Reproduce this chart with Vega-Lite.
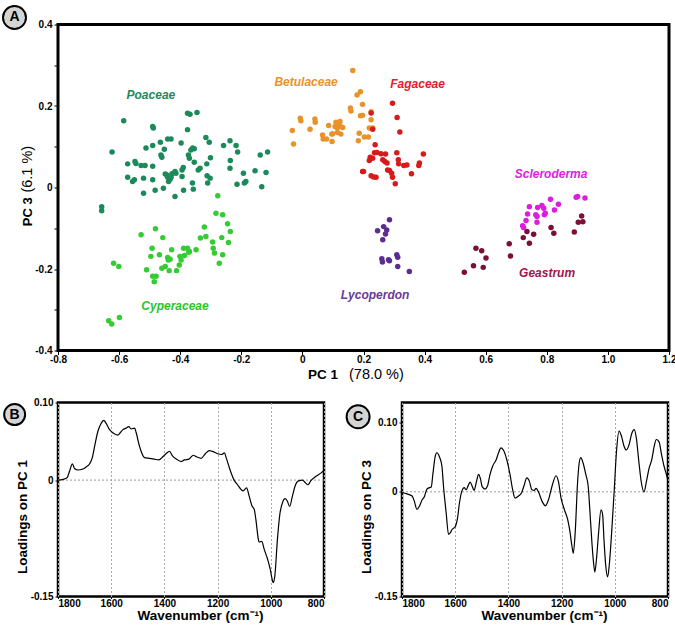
{
  "$schema": "https://vega.github.io/schema/vega-lite/v6.json",
  "background": "white",
  "padding": {"left": 0, "top": 2.5, "right": 0, "bottom": 0},
  "autosize": {"type": "pad"},
  "config": {
    "font": "Liberation Sans",
    "axis": {"labelFont": "Liberation Sans", "labelFontSize": 10, "labelFontWeight": "bold", "labelColor": "#000", "tickColor": "#000", "domain": false, "titleFont": "Liberation Sans", "titleFontSize": 13.5, "titleFontWeight": "bold", "titleColor": "#000"},
    "view": {"stroke": "#000", "strokeWidth": 3}
  },
  "datasets": {
    "pca": [
      {"g":"Poaceae","x":-0.585,"y":0.164},{"g":"Poaceae","x":-0.623,"y":0.087},{"g":"Poaceae","x":-0.572,"y":0.058},{"g":"Poaceae","x":-0.572,"y":0.025},{"g":"Poaceae","x":-0.548,"y":0.064},{"g":"Poaceae","x":-0.545,"y":0.059},{"g":"Poaceae","x":-0.556,"y":0.015},{"g":"Poaceae","x":-0.550,"y":0.019},{"g":"Poaceae","x":-0.528,"y":0.054},{"g":"Poaceae","x":-0.515,"y":0.054},{"g":"Poaceae","x":-0.512,"y":0.097},{"g":"Poaceae","x":-0.520,"y":0.023},{"g":"Poaceae","x":-0.520,"y":-0.014},{"g":"Poaceae","x":-0.490,"y":0.150},{"g":"Poaceae","x":-0.488,"y":0.146},{"g":"Poaceae","x":-0.490,"y":0.103},{"g":"Poaceae","x":-0.490,"y":0.052},{"g":"Poaceae","x":-0.490,"y":0.019},{"g":"Poaceae","x":-0.482,"y":-0.007},{"g":"Poaceae","x":-0.465,"y":0.111},{"g":"Poaceae","x":-0.463,"y":0.080},{"g":"Poaceae","x":-0.460,"y":0.074},{"g":"Poaceae","x":-0.452,"y":0.094},{"g":"Poaceae","x":-0.455,"y":-0.002},{"g":"Poaceae","x":-0.449,"y":0.033},{"g":"Poaceae","x":-0.441,"y":0.119},{"g":"Poaceae","x":-0.430,"y":0.119},{"g":"Poaceae","x":-0.444,"y":0.031},{"g":"Poaceae","x":-0.441,"y":0.025},{"g":"Poaceae","x":-0.438,"y":0.015},{"g":"Poaceae","x":-0.433,"y":0.020},{"g":"Poaceae","x":-0.430,"y":0.025},{"g":"Poaceae","x":-0.427,"y":0.034},{"g":"Poaceae","x":-0.417,"y":0.039},{"g":"Poaceae","x":-0.417,"y":-0.022},{"g":"Poaceae","x":-0.414,"y":0.035},{"g":"Poaceae","x":-0.397,"y":0.109},{"g":"Poaceae","x":-0.394,"y":0.043},{"g":"Poaceae","x":-0.390,"y":0.049},{"g":"Poaceae","x":-0.389,"y":-0.007},{"g":"Poaceae","x":-0.394,"y":0.027},{"g":"Poaceae","x":-0.376,"y":0.182},{"g":"Poaceae","x":-0.368,"y":0.180},{"g":"Poaceae","x":-0.345,"y":0.184},{"g":"Poaceae","x":-0.376,"y":0.142},{"g":"Poaceae","x":-0.373,"y":0.080},{"g":"Poaceae","x":-0.365,"y":0.092},{"g":"Poaceae","x":-0.359,"y":0.097},{"g":"Poaceae","x":-0.354,"y":0.095},{"g":"Poaceae","x":-0.370,"y":0.072},{"g":"Poaceae","x":-0.354,"y":0.062},{"g":"Poaceae","x":-0.360,"y":0.011},{"g":"Poaceae","x":-0.357,"y":-0.004},{"g":"Poaceae","x":-0.341,"y":0.043},{"g":"Poaceae","x":-0.335,"y":0.047},{"g":"Poaceae","x":-0.316,"y":0.123},{"g":"Poaceae","x":-0.305,"y":0.111},{"g":"Poaceae","x":-0.313,"y":0.058},{"g":"Poaceae","x":-0.312,"y":0.029},{"g":"Poaceae","x":-0.310,"y":0.011},{"g":"Poaceae","x":-0.301,"y":0.073},{"g":"Poaceae","x":-0.302,"y":0.023},{"g":"Poaceae","x":-0.258,"y":0.103},{"g":"Poaceae","x":-0.237,"y":0.115},{"g":"Poaceae","x":-0.236,"y":0.066},{"g":"Poaceae","x":-0.237,"y":0.047},{"g":"Poaceae","x":-0.217,"y":0.103},{"g":"Poaceae","x":-0.212,"y":0.087},{"g":"Poaceae","x":-0.214,"y":0.008},{"g":"Poaceae","x":-0.193,"y":0.035},{"g":"Poaceae","x":-0.190,"y":0.011},{"g":"Poaceae","x":-0.185,"y":0.015},{"g":"Poaceae","x":-0.155,"y":0.041},{"g":"Poaceae","x":-0.138,"y":0.080},{"g":"Poaceae","x":-0.133,"y":0.002},{"g":"Poaceae","x":-0.119,"y":0.037},{"g":"Poaceae","x":-0.114,"y":0.087},{"g":"Poaceae","x":-0.657,"y":-0.047},{"g":"Poaceae","x":-0.657,"y":-0.057},
      {"g":"Cyperaceae","x":-0.277,"y":-0.020},{"g":"Cyperaceae","x":-0.283,"y":-0.063},{"g":"Cyperaceae","x":-0.261,"y":-0.067},{"g":"Cyperaceae","x":-0.245,"y":-0.089},{"g":"Cyperaceae","x":-0.236,"y":-0.108},{"g":"Cyperaceae","x":-0.242,"y":-0.135},{"g":"Cyperaceae","x":-0.321,"y":-0.097},{"g":"Cyperaceae","x":-0.316,"y":-0.120},{"g":"Cyperaceae","x":-0.334,"y":-0.124},{"g":"Cyperaceae","x":-0.264,"y":-0.123},{"g":"Cyperaceae","x":-0.294,"y":-0.134},{"g":"Cyperaceae","x":-0.292,"y":-0.149},{"g":"Cyperaceae","x":-0.288,"y":-0.161},{"g":"Cyperaceae","x":-0.261,"y":-0.165},{"g":"Cyperaceae","x":-0.272,"y":-0.186},{"g":"Cyperaceae","x":-0.348,"y":-0.153},{"g":"Cyperaceae","x":-0.370,"y":-0.157},{"g":"Cyperaceae","x":-0.389,"y":-0.149},{"g":"Cyperaceae","x":-0.376,"y":-0.149},{"g":"Cyperaceae","x":-0.372,"y":-0.159},{"g":"Cyperaceae","x":-0.386,"y":-0.167},{"g":"Cyperaceae","x":-0.401,"y":-0.169},{"g":"Cyperaceae","x":-0.403,"y":-0.190},{"g":"Cyperaceae","x":-0.397,"y":-0.178},{"g":"Cyperaceae","x":-0.428,"y":-0.153},{"g":"Cyperaceae","x":-0.441,"y":-0.172},{"g":"Cyperaceae","x":-0.439,"y":-0.178},{"g":"Cyperaceae","x":-0.433,"y":-0.176},{"g":"Cyperaceae","x":-0.449,"y":-0.194},{"g":"Cyperaceae","x":-0.436,"y":-0.204},{"g":"Cyperaceae","x":-0.460,"y":-0.198},{"g":"Cyperaceae","x":-0.481,"y":-0.101},{"g":"Cyperaceae","x":-0.457,"y":-0.123},{"g":"Cyperaceae","x":-0.528,"y":-0.116},{"g":"Cyperaceae","x":-0.492,"y":-0.149},{"g":"Cyperaceae","x":-0.496,"y":-0.169},{"g":"Cyperaceae","x":-0.468,"y":-0.165},{"g":"Cyperaceae","x":-0.510,"y":-0.202},{"g":"Cyperaceae","x":-0.490,"y":-0.218},{"g":"Cyperaceae","x":-0.479,"y":-0.218},{"g":"Cyperaceae","x":-0.485,"y":-0.231},{"g":"Cyperaceae","x":-0.412,"y":-0.204},{"g":"Cyperaceae","x":-0.618,"y":-0.186},{"g":"Cyperaceae","x":-0.601,"y":-0.194},{"g":"Cyperaceae","x":-0.634,"y":-0.327},{"g":"Cyperaceae","x":-0.624,"y":-0.335},{"g":"Cyperaceae","x":-0.599,"y":-0.319},
      {"g":"Betulaceae","x":0.165,"y":0.287},{"g":"Betulaceae","x":0.179,"y":0.227},{"g":"Betulaceae","x":0.190,"y":0.235},{"g":"Betulaceae","x":0.197,"y":0.204},{"g":"Betulaceae","x":0.157,"y":0.195},{"g":"Betulaceae","x":0.159,"y":0.188},{"g":"Betulaceae","x":0.190,"y":0.176},{"g":"Betulaceae","x":0.197,"y":0.177},{"g":"Betulaceae","x":0.225,"y":0.186},{"g":"Betulaceae","x":0.225,"y":0.166},{"g":"Betulaceae","x":0.219,"y":0.146},{"g":"Betulaceae","x":0.230,"y":0.146},{"g":"Betulaceae","x":0.186,"y":0.133},{"g":"Betulaceae","x":0.183,"y":0.115},{"g":"Betulaceae","x":0.203,"y":0.124},{"g":"Betulaceae","x":0.216,"y":0.124},{"g":"Betulaceae","x":-0.007,"y":0.170},{"g":"Betulaceae","x":-0.005,"y":0.164},{"g":"Betulaceae","x":0.041,"y":0.168},{"g":"Betulaceae","x":0.042,"y":0.160},{"g":"Betulaceae","x":0.025,"y":0.143},{"g":"Betulaceae","x":-0.033,"y":0.140},{"g":"Betulaceae","x":-0.029,"y":0.107},{"g":"Betulaceae","x":0.066,"y":0.129},{"g":"Betulaceae","x":0.068,"y":0.119},{"g":"Betulaceae","x":0.079,"y":0.119},{"g":"Betulaceae","x":0.096,"y":0.131},{"g":"Betulaceae","x":0.097,"y":0.113},{"g":"Betulaceae","x":0.086,"y":0.152},{"g":"Betulaceae","x":0.110,"y":0.160},{"g":"Betulaceae","x":0.118,"y":0.157},{"g":"Betulaceae","x":0.123,"y":0.162},{"g":"Betulaceae","x":0.107,"y":0.150},{"g":"Betulaceae","x":0.114,"y":0.146},{"g":"Betulaceae","x":0.124,"y":0.150},{"g":"Betulaceae","x":0.132,"y":0.147},{"g":"Betulaceae","x":0.115,"y":0.135},{"g":"Betulaceae","x":0.126,"y":0.131},{"g":"Betulaceae","x":0.099,"y":0.132},
      {"g":"Fagaceae","x":0.295,"y":0.207},{"g":"Fagaceae","x":0.310,"y":0.172},{"g":"Fagaceae","x":0.319,"y":0.136},{"g":"Fagaceae","x":0.225,"y":0.183},{"g":"Fagaceae","x":0.230,"y":0.143},{"g":"Fagaceae","x":0.238,"y":0.105},{"g":"Fagaceae","x":0.236,"y":0.085},{"g":"Fagaceae","x":0.244,"y":0.086},{"g":"Fagaceae","x":0.257,"y":0.083},{"g":"Fagaceae","x":0.272,"y":0.082},{"g":"Fagaceae","x":0.222,"y":0.074},{"g":"Fagaceae","x":0.219,"y":0.066},{"g":"Fagaceae","x":0.230,"y":0.072},{"g":"Fagaceae","x":0.263,"y":0.068},{"g":"Fagaceae","x":0.270,"y":0.064},{"g":"Fagaceae","x":0.277,"y":0.060},{"g":"Fagaceae","x":0.309,"y":0.085},{"g":"Fagaceae","x":0.314,"y":0.068},{"g":"Fagaceae","x":0.315,"y":0.058},{"g":"Fagaceae","x":0.332,"y":0.054},{"g":"Fagaceae","x":0.342,"y":0.055},{"g":"Fagaceae","x":0.383,"y":0.060},{"g":"Fagaceae","x":0.381,"y":0.054},{"g":"Fagaceae","x":0.396,"y":0.082},{"g":"Fagaceae","x":0.357,"y":0.034},{"g":"Fagaceae","x":0.197,"y":0.039},{"g":"Fagaceae","x":0.200,"y":0.039},{"g":"Fagaceae","x":0.225,"y":0.029},{"g":"Fagaceae","x":0.233,"y":0.026},{"g":"Fagaceae","x":0.241,"y":0.025},{"g":"Fagaceae","x":0.279,"y":0.043},{"g":"Fagaceae","x":0.285,"y":0.042},{"g":"Fagaceae","x":0.292,"y":0.035},{"g":"Fagaceae","x":0.295,"y":0.025},{"g":"Fagaceae","x":0.304,"y":0.009},
      {"g":"Lycoperdon","x":0.285,"y":-0.079},{"g":"Lycoperdon","x":0.266,"y":-0.096},{"g":"Lycoperdon","x":0.276,"y":-0.104},{"g":"Lycoperdon","x":0.246,"y":-0.106},{"g":"Lycoperdon","x":0.272,"y":-0.114},{"g":"Lycoperdon","x":0.263,"y":-0.128},{"g":"Lycoperdon","x":0.309,"y":-0.165},{"g":"Lycoperdon","x":0.312,"y":-0.171},{"g":"Lycoperdon","x":0.282,"y":-0.177},{"g":"Lycoperdon","x":0.285,"y":-0.180},{"g":"Lycoperdon","x":0.260,"y":-0.175},{"g":"Lycoperdon","x":0.262,"y":-0.183},{"g":"Lycoperdon","x":0.312,"y":-0.194},{"g":"Lycoperdon","x":0.350,"y":-0.206},
      {"g":"Geastrum","x":0.530,"y":-0.208},{"g":"Geastrum","x":0.560,"y":-0.192},{"g":"Geastrum","x":0.568,"y":-0.149},{"g":"Geastrum","x":0.587,"y":-0.155},{"g":"Geastrum","x":0.601,"y":-0.173},{"g":"Geastrum","x":0.592,"y":-0.196},{"g":"Geastrum","x":0.677,"y":-0.138},{"g":"Geastrum","x":0.681,"y":-0.168},{"g":"Geastrum","x":0.723,"y":-0.123},{"g":"Geastrum","x":0.735,"y":-0.108},{"g":"Geastrum","x":0.743,"y":-0.137},{"g":"Geastrum","x":0.757,"y":-0.115},{"g":"Geastrum","x":0.814,"y":-0.098},{"g":"Geastrum","x":0.823,"y":-0.112},{"g":"Geastrum","x":0.890,"y":-0.109},{"g":"Geastrum","x":0.903,"y":-0.085},{"g":"Geastrum","x":0.918,"y":-0.084},{"g":"Geastrum","x":0.914,"y":-0.070},
      {"g":"Scleroderma","x":0.743,"y":-0.047},{"g":"Scleroderma","x":0.770,"y":-0.049},{"g":"Scleroderma","x":0.784,"y":-0.044},{"g":"Scleroderma","x":0.790,"y":-0.051},{"g":"Scleroderma","x":0.812,"y":-0.029},{"g":"Scleroderma","x":0.838,"y":-0.041},{"g":"Scleroderma","x":0.825,"y":-0.055},{"g":"Scleroderma","x":0.737,"y":-0.065},{"g":"Scleroderma","x":0.764,"y":-0.067},{"g":"Scleroderma","x":0.768,"y":-0.071},{"g":"Scleroderma","x":0.792,"y":-0.067},{"g":"Scleroderma","x":0.795,"y":-0.063},{"g":"Scleroderma","x":0.732,"y":-0.081},{"g":"Scleroderma","x":0.768,"y":-0.085},{"g":"Scleroderma","x":0.721,"y":-0.094},{"g":"Scleroderma","x":0.724,"y":-0.098},{"g":"Scleroderma","x":0.896,"y":-0.024},{"g":"Scleroderma","x":0.901,"y":-0.022},{"g":"Scleroderma","x":0.925,"y":-0.026}
    ],
    "labels": [
      {"g":"Poaceae","x":-0.496,"y":0.226},
      {"g":"Cyperaceae","x":-0.417,"y":-0.290},
      {"g":"Betulaceae","x":0.012,"y":0.258},
      {"g":"Fagaceae","x":0.377,"y":0.254},
      {"g":"Scleroderma","x":0.814,"y":0.034},
      {"g":"Geastrum","x":0.801,"y":-0.211},
      {"g":"Lycoperdon","x":0.238,"y":-0.263}
    ],
    "loadB": [
      {"wn":1800,"v":0.000},{"wn":1781,"v":0.001},{"wn":1766,"v":0.003},{"wn":1756,"v":0.012},{"wn":1746,"v":0.021},{"wn":1738,"v":0.015},{"wn":1725,"v":0.013},{"wn":1709,"v":0.014},{"wn":1694,"v":0.017},{"wn":1681,"v":0.021},{"wn":1671,"v":0.029},{"wn":1662,"v":0.044},{"wn":1650,"v":0.063},{"wn":1638,"v":0.073},{"wn":1628,"v":0.077},{"wn":1619,"v":0.073},{"wn":1606,"v":0.065},{"wn":1594,"v":0.061},{"wn":1575,"v":0.058},{"wn":1566,"v":0.061},{"wn":1556,"v":0.065},{"wn":1544,"v":0.067},{"wn":1534,"v":0.069},{"wn":1525,"v":0.066},{"wn":1512,"v":0.067},{"wn":1506,"v":0.061},{"wn":1494,"v":0.044},{"wn":1484,"v":0.034},{"wn":1475,"v":0.029},{"wn":1456,"v":0.028},{"wn":1438,"v":0.027},{"wn":1421,"v":0.026},{"wn":1406,"v":0.030},{"wn":1394,"v":0.034},{"wn":1381,"v":0.037},{"wn":1369,"v":0.031},{"wn":1354,"v":0.027},{"wn":1338,"v":0.024},{"wn":1325,"v":0.026},{"wn":1308,"v":0.027},{"wn":1291,"v":0.032},{"wn":1279,"v":0.030},{"wn":1262,"v":0.028},{"wn":1246,"v":0.034},{"wn":1231,"v":0.038},{"wn":1219,"v":0.037},{"wn":1200,"v":0.034},{"wn":1185,"v":0.033},{"wn":1175,"v":0.035},{"wn":1166,"v":0.027},{"wn":1154,"v":0.014},{"wn":1138,"v":0.000},{"wn":1125,"v":-0.006},{"wn":1112,"v":-0.012},{"wn":1104,"v":-0.014},{"wn":1091,"v":-0.010},{"wn":1081,"v":-0.021},{"wn":1071,"v":-0.033},{"wn":1062,"v":-0.038},{"wn":1056,"v":-0.051},{"wn":1047,"v":-0.076},{"wn":1044,"v":-0.080},{"wn":1034,"v":-0.079},{"wn":1025,"v":-0.089},{"wn":1012,"v":-0.102},{"wn":1002,"v":-0.115},{"wn":996,"v":-0.126},{"wn":991,"v":-0.132},{"wn":985,"v":-0.124},{"wn":975,"v":-0.076},{"wn":966,"v":-0.044},{"wn":956,"v":-0.029},{"wn":946,"v":-0.024},{"wn":938,"v":-0.027},{"wn":929,"v":-0.034},{"wn":919,"v":-0.021},{"wn":909,"v":-0.008},{"wn":896,"v":-0.001},{"wn":881,"v":0.000},{"wn":871,"v":-0.003},{"wn":860,"v":-0.006},{"wn":850,"v":-0.001},{"wn":837,"v":0.003},{"wn":825,"v":0.006},{"wn":812,"v":0.009},{"wn":800,"v":0.012}
    ],
    "loadC": [
      {"wn":1800,"v":-0.001},{"wn":1781,"v":-0.003},{"wn":1762,"v":-0.006},{"wn":1754,"v":-0.013},{"wn":1744,"v":-0.025},{"wn":1735,"v":-0.021},{"wn":1725,"v":-0.012},{"wn":1716,"v":-0.007},{"wn":1706,"v":0.004},{"wn":1696,"v":0.006},{"wn":1690,"v":0.007},{"wn":1684,"v":0.025},{"wn":1675,"v":0.051},{"wn":1669,"v":0.056},{"wn":1659,"v":0.050},{"wn":1650,"v":0.037},{"wn":1644,"v":0.008},{"wn":1634,"v":-0.030},{"wn":1625,"v":-0.061},{"wn":1619,"v":-0.059},{"wn":1612,"v":-0.054},{"wn":1600,"v":-0.050},{"wn":1591,"v":-0.037},{"wn":1584,"v":-0.016},{"wn":1575,"v":0.001},{"wn":1566,"v":0.006},{"wn":1559,"v":0.003},{"wn":1550,"v":0.010},{"wn":1544,"v":0.014},{"wn":1536,"v":0.008},{"wn":1529,"v":0.002},{"wn":1521,"v":0.013},{"wn":1512,"v":0.025},{"wn":1506,"v":0.020},{"wn":1498,"v":0.007},{"wn":1488,"v":0.004},{"wn":1479,"v":0.008},{"wn":1469,"v":0.025},{"wn":1459,"v":0.037},{"wn":1446,"v":0.046},{"wn":1437,"v":0.056},{"wn":1428,"v":0.063},{"wn":1419,"v":0.060},{"wn":1406,"v":0.046},{"wn":1394,"v":0.025},{"wn":1384,"v":0.003},{"wn":1375,"v":-0.009},{"wn":1362,"v":-0.006},{"wn":1350,"v":-0.001},{"wn":1341,"v":0.009},{"wn":1331,"v":0.020},{"wn":1321,"v":0.015},{"wn":1312,"v":0.003},{"wn":1303,"v":0.002},{"wn":1296,"v":0.005},{"wn":1286,"v":-0.001},{"wn":1274,"v":-0.013},{"wn":1261,"v":-0.020},{"wn":1249,"v":-0.011},{"wn":1236,"v":0.008},{"wn":1221,"v":0.023},{"wn":1212,"v":0.015},{"wn":1202,"v":-0.009},{"wn":1190,"v":-0.025},{"wn":1177,"v":-0.040},{"wn":1169,"v":-0.056},{"wn":1161,"v":-0.078},{"wn":1156,"v":-0.088},{"wn":1149,"v":-0.059},{"wn":1140,"v":0.013},{"wn":1134,"v":0.041},{"wn":1128,"v":0.049},{"wn":1119,"v":0.041},{"wn":1109,"v":0.025},{"wn":1100,"v":0.008},{"wn":1094,"v":-0.025},{"wn":1086,"v":-0.073},{"wn":1080,"v":-0.101},{"wn":1075,"v":-0.115},{"wn":1069,"v":-0.097},{"wn":1061,"v":-0.059},{"wn":1052,"v":-0.026},{"wn":1046,"v":-0.032},{"wn":1040,"v":-0.073},{"wn":1034,"v":-0.106},{"wn":1027,"v":-0.122},{"wn":1021,"v":-0.106},{"wn":1012,"v":-0.059},{"wn":1002,"v":0.003},{"wn":994,"v":0.056},{"wn":984,"v":0.087},{"wn":975,"v":0.080},{"wn":965,"v":0.065},{"wn":956,"v":0.060},{"wn":946,"v":0.068},{"wn":936,"v":0.084},{"wn":927,"v":0.089},{"wn":919,"v":0.077},{"wn":909,"v":0.041},{"wn":900,"v":0.013},{"wn":890,"v":0.000},{"wn":881,"v":0.015},{"wn":871,"v":0.034},{"wn":861,"v":0.046},{"wn":852,"v":0.065},{"wn":844,"v":0.075},{"wn":834,"v":0.072},{"wn":824,"v":0.053},{"wn":815,"v":0.037},{"wn":806,"v":0.025},{"wn":800,"v":0.016}
    ]
  },
  "spacing": 12,
  "vconcat": [
    {
      "width": 611,
      "height": 326,
      "view": {"stroke": "#000", "strokeWidth": 3},
      "resolve": {"scale": {"color": "independent"}},
      "layer": [
        {
          "data": {"name": "pca"},
          "mark": {"type": "circle", "size": 30, "opacity": 1},
          "encoding": {
            "x": {"field": "x", "type": "quantitative", "scale": {"domain": [-0.8, 1.2], "nice": false, "zero": false},
              "axis": {"values": [-0.8, -0.6, -0.4, -0.2, 0, 0.2, 0.4, 0.6, 0.8, 1.0, 1.2], "labelExpr": "datum.value == 0 ? '0' : replace(format(datum.value, '.1f'), '\u2212', '-')", "grid": false, "tickSize": 4, "labelPadding": 0, "title": null, "labelFlush": false}},
            "y": {"field": "y", "type": "quantitative", "scale": {"domain": [-0.4, 0.4], "nice": false, "zero": false},
              "axis": {"values": [-0.4, -0.3, -0.2, -0.1, 0, 0.1, 0.2, 0.3, 0.4], "labelExpr": "round(datum.value * 10) % 2 != 0 ? '' : (datum.value == 0 ? '0' : replace(format(datum.value, '.1f'), '\u2212', '-'))", "grid": false, "tickSize": 4, "labelPadding": 2, "title": null, "labelFlush": false}},
            "color": {"field": "g", "type": "nominal", "legend": null,
              "scale": {"domain": ["Poaceae", "Cyperaceae", "Betulaceae", "Fagaceae", "Lycoperdon", "Geastrum", "Scleroderma"],
                        "range": ["#1b8a5a", "#33cc33", "#e8922a", "#d81a1a", "#5c2d91", "#7a1035", "#dd1ddd"]}}
          }
        },
        {
          "data": {"name": "labels"},
          "mark": {"type": "text", "fontSize": 12, "fontWeight": "bold", "fontStyle": "italic", "baseline": "middle", "align": "center"},
          "encoding": {
            "x": {"field": "x", "type": "quantitative"},
            "y": {"field": "y", "type": "quantitative"},
            "text": {"field": "g"},
            "color": {"field": "g", "type": "nominal", "legend": null,
              "scale": {"domain": ["Poaceae", "Cyperaceae", "Betulaceae", "Fagaceae", "Lycoperdon", "Geastrum", "Scleroderma"],
                        "range": ["#1b8a5a", "#2bc42b", "#e8922a", "#e0202a", "#6a3a9a", "#a0154a", "#e020e0"]}}
          }
        },
        {
          "data": {"values": [{}]},
          "mark": {"type": "point", "shape": "circle", "filled": true, "fill": "#d4d4d4", "stroke": "#000", "strokeWidth": 2, "strokeJoin": "round", "size": 529, "opacity": 1},
          "encoding": {"x": {"datum": -0.9424}, "y": {"datum": 0.4172}}
        },
        {
          "data": {"values": [{}]},
          "mark": {"type": "text", "text": "A", "fontSize": 14, "fontWeight": "bold", "baseline": "middle", "align": "center", "color": "#000"},
          "encoding": {"x": {"datum": -0.9424}, "y": {"datum": 0.4172}}
        },
        {
          "data": {"values": [{}]},
          "mark": {"type": "text", "text": "PC 1", "fontSize": 13.5, "fontWeight": "bold", "baseline": "middle", "align": "right", "color": "#000"},
          "encoding": {"x": {"datum": 0.1165}, "y": {"datum": -0.4589}}
        },
        {
          "data": {"values": [{}]},
          "mark": {"type": "text", "text": "(78.0 %)", "fontSize": 14.5, "fontWeight": "normal", "baseline": "middle", "align": "left", "color": "#000"},
          "encoding": {"x": {"datum": 0.1525}, "y": {"datum": -0.4589}}
        },
        {
          "data": {"values": [{}]},
          "mark": {"type": "text", "text": "PC 3", "fontSize": 13, "fontWeight": "bold", "baseline": "middle", "align": "left", "angle": 270, "color": "#000"},
          "encoding": {"x": {"datum": -0.8998}, "y": {"datum": -0.095}}
        },
        {
          "data": {"values": [{}]},
          "mark": {"type": "text", "text": "(6.1 %)", "fontSize": 14.5, "fontWeight": "normal", "baseline": "middle", "align": "left", "angle": 270, "color": "#000"},
          "encoding": {"x": {"datum": -0.8998}, "y": {"datum": -0.0125}}
        }
      ]
    },
    {
      "spacing": 16,
      "hconcat": [
        {
          "width": 266,
          "height": 194,
          "view": {"stroke": "#000", "strokeWidth": 2.5},
          "layer": [
            {
              "data": {"values": [{}]},
              "mark": {"type": "rule", "strokeDash": [2, 2], "color": "#999", "strokeWidth": 1},
              "encoding": {"y": {"datum": 0}}
            },
            {
              "data": {"name": "loadB"},
              "mark": {"type": "line", "color": "#000", "strokeWidth": 1.2, "interpolate": "monotone"},
              "encoding": {
                "x": {"field": "wn", "type": "quantitative", "scale": {"domain": [800, 1800], "reverse": true, "nice": false, "zero": false},
                  "axis": {"values": [800, 900, 1000, 1100, 1200, 1300, 1400, 1500, 1600, 1700, 1800], "format": "d", "labelExpr": "datum.value % 200 == 0 ? datum.label : ''", "grid": true, "gridDash": [2, 2], "gridColor": {"condition": {"test": "datum.value % 200 == 0", "value": "#a8a8a8"}, "value": "#dcdcdc"}, "tickSize": 2, "labelPadding": 0, "labelFlush": true, "title": "Wavenumber (cm\u207b\u00b9)", "titlePadding": 0, "titleX": 142}},
                "y": {"field": "v", "type": "quantitative", "scale": {"domain": [-0.15, 0.1], "nice": false, "zero": false},
                  "axis": {"values": [-0.15, 0, 0.1], "labelExpr": "datum.value == 0 ? '0' : (datum.value > 0 ? '0.10' : '-0.15')", "grid": false, "tickSize": 3, "labelPadding": 2, "labelFlush": false, "title": "Loadings on PC 1", "titlePadding": 1, "titleY": 114}}
              }
            },
            {
              "data": {"values": [{}]},
              "mark": {"type": "point", "shape": "circle", "filled": true, "fill": "#d4d4d4", "stroke": "#000", "strokeWidth": 2, "strokeJoin": "round", "size": 441, "opacity": 1},
              "encoding": {"x": {"datum": 1963}, "y": {"datum": 0.0845}}
            },
            {
              "data": {"values": [{}]},
              "mark": {"type": "text", "text": "B", "fontSize": 14, "fontWeight": "bold", "baseline": "middle", "align": "center", "color": "#000"},
              "encoding": {"x": {"datum": 1963}, "y": {"datum": 0.0845}}
            }
          ]
        },
        {
          "width": 266,
          "height": 194,
          "view": {"stroke": "#000", "strokeWidth": 2.5},
          "layer": [
            {
              "data": {"values": [{}]},
              "mark": {"type": "rule", "strokeDash": [2, 2], "color": "#999", "strokeWidth": 1},
              "encoding": {"y": {"datum": 0}}
            },
            {
              "data": {"name": "loadC"},
              "mark": {"type": "line", "color": "#000", "strokeWidth": 1.2, "interpolate": "monotone"},
              "encoding": {
                "x": {"field": "wn", "type": "quantitative", "scale": {"domain": [800, 1800], "reverse": true, "nice": false, "zero": false},
                  "axis": {"values": [800, 900, 1000, 1100, 1200, 1300, 1400, 1500, 1600, 1700, 1800], "format": "d", "labelExpr": "datum.value % 200 == 0 ? datum.label : ''", "grid": true, "gridDash": [2, 2], "gridColor": {"condition": {"test": "datum.value % 200 == 0", "value": "#a8a8a8"}, "value": "#dcdcdc"}, "tickSize": 2, "labelPadding": 0, "labelFlush": true, "title": "Wavenumber (cm\u207b\u00b9)", "titlePadding": 0, "titleX": 142}},
                "y": {"field": "v", "type": "quantitative", "scale": {"domain": [-0.15, 0.128], "nice": false, "zero": false},
                  "axis": {"values": [-0.15, 0, 0.1], "labelExpr": "datum.value == 0 ? '0' : (datum.value > 0 ? '0.10' : '-0.15')", "grid": false, "tickSize": 3, "labelPadding": 2, "labelFlush": false, "title": "Loadings on PC 3", "titlePadding": 1, "titleY": 114}}
              }
            },
            {
              "data": {"values": [{}]},
              "mark": {"type": "point", "shape": "circle", "filled": true, "fill": "#d4d4d4", "stroke": "#000", "strokeWidth": 2, "strokeJoin": "round", "size": 529, "opacity": 1},
              "encoding": {"x": {"datum": 1965}, "y": {"datum": 0.1076}}
            },
            {
              "data": {"values": [{}]},
              "mark": {"type": "text", "text": "C", "fontSize": 14, "fontWeight": "bold", "baseline": "middle", "align": "center", "color": "#000"},
              "encoding": {"x": {"datum": 1965}, "y": {"datum": 0.1076}}
            }
          ]
        }
      ]
    }
  ]
}
